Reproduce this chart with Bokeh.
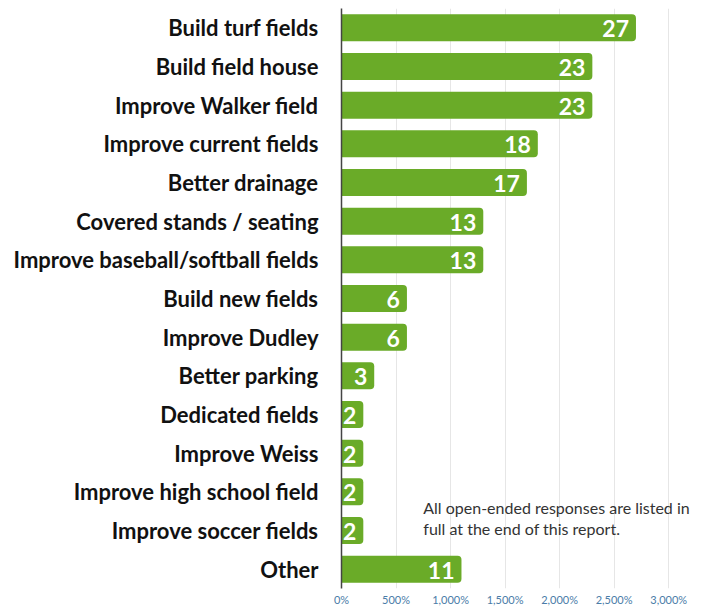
from bokeh.plotting import figure
from bokeh.models import ColumnDataSource, FactorRange, Range1d, FixedTicker
from bokeh.core.properties import value
from bokeh.embed import file_html
from bokeh.resources import INLINE

categories = [
    "Build turf fields",
    "Build field house",
    "Improve Walker field",
    "Improve current fields",
    "Better drainage",
    "Covered stands / seating",
    "Improve baseball/softball fields",
    "Build new fields",
    "Improve Dudley",
    "Better parking",
    "Dedicated fields",
    "Improve Weiss",
    "Improve high school field",
    "Improve soccer fields",
    "Other",
]
counts = [27, 23, 23, 18, 17, 13, 13, 6, 6, 3, 2, 2, 2, 2, 11]
tick_values = [0, 5, 10, 15, 20, 25, 30]
tick_labels = ["0%", "500%", "1,000%", "1,500%", "2,000%", "2,500%", "3,000%"]
note_lines = ["All open-ended responses are listed in", "full at the end of this report."]

GREEN = "#6aab28"

src = ColumnDataSource(dict(cat=categories, val=counts, lab=[str(c) for c in counts]))

p = figure(
    width=698, height=608,
    y_range=FactorRange(*categories[::-1], range_padding=0),
    x_range=Range1d(0, 32),
    output_backend="svg", toolbar_location=None,
    min_border_left=341, min_border_right=8, min_border_top=8, min_border_bottom=16,
)
p.outline_line_color = None
p.background_fill_color = "white"
p.border_fill_color = "white"

p.hbar(y="cat", left=0, right="val", height=0.7, source=src,
       fill_color=GREEN, line_color=None, border_radius=(0, 4, 4, 0))

p.text(x="val", y="cat", text="lab", source=src, text_align="right",
       text_baseline="middle", x_offset=-7, y_offset=1, text_color="white",
       text_font=value("Lato"), text_font_style="bold", text_font_size="23px")

p.text(x=[7.5, 7.5], y=[categories[12], categories[12]], text=note_lines,
       y_offset=[16, 37], text_align="left", text_baseline="middle",
       text_color="#333333", text_font=value("Lato"), text_font_size="16px")

p.xaxis.ticker = FixedTicker(ticks=tick_values)
p.xaxis.major_label_overrides = {v: l for v, l in zip(tick_values, tick_labels)}
p.xaxis.axis_line_color = None
p.xaxis.major_tick_line_color = None
p.xaxis.major_tick_out = 0
p.xaxis.major_tick_in = 0
p.xaxis.minor_tick_line_color = None
p.xaxis.minor_tick_out = 0
p.xaxis.major_label_text_color = "#4a7ca8"
p.xaxis.major_label_text_font = "Lato"
p.xaxis.major_label_text_font_size = "11px"
p.xaxis.major_label_standoff = 4

p.yaxis.axis_line_color = "#444444"
p.yaxis.axis_line_width = 1.5
p.yaxis.major_tick_line_color = None
p.yaxis.major_tick_out = 0
p.yaxis.major_tick_in = 0
p.yaxis.minor_tick_line_color = None
p.yaxis.major_label_text_font = "Lato"
p.yaxis.major_label_text_font_style = "bold"
p.yaxis.major_label_text_font_size = "22px"
p.yaxis.major_label_text_color = "#111111"
p.yaxis.major_label_standoff = 23

p.xgrid.grid_line_color = "#e6e6e6"
p.ygrid.grid_line_color = None

open("out.html", "w").write(file_html(p, INLINE))
